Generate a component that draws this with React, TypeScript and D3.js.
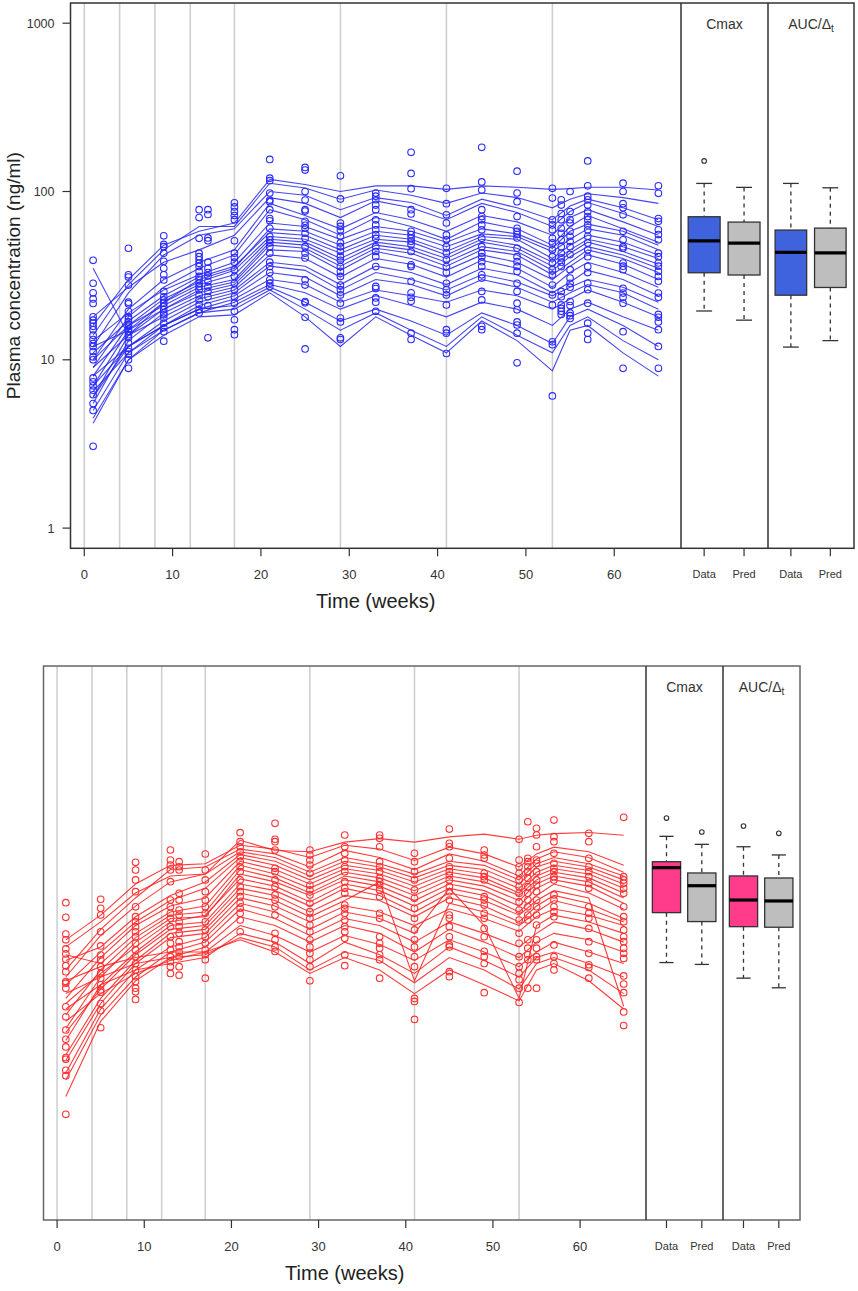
import * as d3 from "d3";

// weeks at which doses were given (grey verticals)
const DOSE_WEEKS = [0, 4, 8, 12, 17, 29, 41, 53];
// weeks of the observed samples
const OBS_WEEKS = [1, 5, 9, 13, 14, 17, 21, 25, 29, 33, 37, 41, 45, 49, 53, 54, 55, 57, 61, 65];
// weeks at which the individual predictions are drawn
const PRED_WEEKS = [1, 5, 9, 13, 17, 21, 25, 29, 33, 37, 41, 45, 49, 53, 55, 57, 61, 65];
const X_TICKS = [0, 10, 20, 30, 40, 50, 60];
const Y_TICKS = [1, 10, 100, 1000];
const BOX_LABELS = ["Data", "Pred"];

// ---- top panel (blue) ----
const topObs: number[][] = [
  [39, 28.5, 25, 23, 21.6, 18, 17.2, 16.5, 15.8, 15.1, 14, 13.2, 12.5, 12, 11.2, 10.4, 10, 7.8, 7.4, 7, 6.6, 6.2, 5.5, 5, 3.06],
  [46, 32, 31, 27.8, 22, 21.5, 19.4, 18, 17.5, 16.8, 16.2, 15.8, 15.2, 14.7, 14.1, 13.5, 12.6, 11.7, 11.2, 10.8, 10, 8.9],
  [54.5, 48.5, 47, 43, 38.5, 35, 32, 29.8, 25.5, 23.7, 22.7, 21.7, 20.8, 19.8, 19, 18.5, 17.7, 16.5, 15.5, 14.7, 12.9],
  [78, 70, 52.7, 43, 41, 39.3, 37.5, 35.8, 33.5, 31.3, 30, 28.5, 27.3, 26.1, 24.3, 22.7, 21.3, 19.8, 19],
  [78, 73, 53, 51, 38, 35, 33, 31.5, 29.3, 27.2, 25.5, 23.7, 21, 13.5],
  [85.6, 81, 76, 72, 68, 50.9, 43, 40.5, 38, 34.3, 31.3, 28.5, 26.1, 23.7, 21.7, 19.4, 17.3, 15.1, 14.1],
  [155, 120, 116, 98, 89, 87, 78, 69, 67, 60.5, 54, 51.6, 49.5, 47, 43, 38, 35.8, 33, 29.9, 28.5, 27.3],
  [139, 134, 100, 89, 78, 76.5, 66.5, 63, 60.5, 56.5, 52.7, 47, 43, 40.3, 29.9, 27.8, 22.2, 21.8, 17.9, 11.6],
  [124, 90.4, 65, 62, 59, 54.2, 49.5, 47, 44.1, 41, 39, 35.8, 33.5, 31.3, 27.8, 26.1, 24.3, 21.7, 17.7, 16.8, 13.5, 13.2],
  [98, 93.8, 89.3, 83, 78, 67.9, 63.3, 59.2, 55.2, 52.7, 47, 44, 41, 35.8, 27.3, 26.5, 23.3, 22, 19.4],
  [171, 128, 104, 78, 73.5, 58, 55.5, 53, 50.6, 48.5, 44, 36.7, 35.8, 29.3, 25, 23.5, 22.3, 14.4, 13.2],
  [104.5, 84.6, 72.7, 65, 55.2, 51.6, 47, 43, 39.3, 35.8, 33, 28.5, 26.1, 24.3, 21.2, 15.1, 14.4, 10.9],
  [183, 114, 102, 78, 71, 67.9, 63.3, 59.2, 52.7, 47, 43, 41, 38.3, 35.8, 32, 30.6, 25.5, 22.7, 15.8, 15.1],
  [132, 98, 87, 71, 60.5, 58, 55.5, 53, 46, 41, 38.3, 35.8, 33.5, 28.5, 25.5, 21.7, 19.8, 16.8, 16.1, 14.4, 9.6],
  [104.5, 91.4, 67.9, 63.3, 59.2, 52.7, 49.5, 45, 41, 37.6, 34.3, 32, 27.8, 24.3, 21.2, 12.8, 12.3, 6.1],
  [89.3, 83, 74, 67.9, 60.5, 56.5, 51.6, 47, 43, 40.3, 38, 35.8, 25.5, 23.7, 21.2, 20.2, 19.4, 18.6],
  [100, 76, 67.9, 65, 58, 54.2, 50.6, 47, 42.2, 34.3, 30.6, 28.5, 27, 22.2, 21, 19, 18.3, 17.6],
  [152, 108, 93.8, 89.3, 83, 76, 71, 67.9, 63.3, 59.2, 54.2, 49.5, 45, 41, 35.8, 33, 28.5, 26.1, 21.7, 16.5, 14.4, 13.2],
  [112, 100, 84.6, 80, 72.7, 58, 51.6, 47, 46, 37.6, 36, 34.3, 26.6, 24.9, 23.5, 21.7, 14.7, 8.9],
  [108, 97.5, 69, 66.5, 59.2, 55.5, 51.6, 43, 41, 37.6, 36, 33.5, 31.3, 29.3, 24.9, 23.5, 18.6, 17.9, 16.8, 15.1, 12, 8.9],
];

const topPred: number[][] = [
  [16, 30, 48, 58, 65, 118, 110, 100, 108, 108, 103, 108, 106, 103, 104, 106, 106, 102],
  [14, 28, 45, 62, 62, 112, 105, 90, 102, 95, 85, 98, 92, 80, 90, 97, 92, 85],
  [12, 25, 42, 55, 60, 100, 95, 78, 92, 86, 72, 90, 80, 68, 82, 90, 80, 68],
  [18, 27, 38, 45, 55, 92, 85, 70, 88, 80, 68, 85, 75, 62, 76, 86, 74, 62],
  [10, 20, 30, 38, 45, 85, 72, 60, 75, 68, 58, 72, 66, 55, 70, 78, 66, 55],
  [9, 18, 27, 35, 42, 78, 68, 55, 70, 62, 52, 66, 60, 48, 62, 72, 60, 50],
  [13, 19, 26, 32, 38, 65, 62, 52, 62, 58, 50, 60, 56, 46, 58, 64, 58, 48],
  [35, 14, 22, 30, 35, 60, 58, 48, 58, 55, 47, 56, 54, 44, 52, 60, 55, 45],
  [11, 17, 24, 31, 36, 57, 55, 45, 55, 52, 44, 54, 52, 40, 48, 55, 50, 42],
  [8, 16, 23, 29, 34, 54, 52, 43, 52, 50, 42, 52, 48, 38, 45, 52, 47, 40],
  [7, 15, 22, 28, 32, 52, 50, 40, 50, 47, 40, 50, 46, 36, 43, 50, 44, 37],
  [10, 16, 21, 27, 30, 50, 48, 38, 48, 45, 38, 47, 44, 34, 41, 47, 42, 35],
  [6, 14, 20, 26, 29, 48, 46, 36, 46, 43, 36, 45, 42, 32, 38, 45, 40, 33],
  [12, 15, 20, 25, 28, 45, 44, 34, 44, 40, 34, 42, 38, 30, 36, 42, 37, 30],
  [5.5, 13, 19, 24, 27, 42, 40, 31, 40, 37, 31, 39, 35, 27, 33, 38, 33, 27],
  [9, 14, 18, 23, 26, 38, 36, 28, 36, 33, 28, 35, 32, 25, 29, 34, 30, 24],
  [7, 12, 17, 22, 25, 36, 34, 26, 33, 30, 26, 32, 29, 24, 27, 30, 27, 22],
  [6, 12, 16, 21, 24, 33, 31, 24, 30, 28, 24, 30, 27, 22, 25, 28, 25, 20],
  [5, 11, 16, 20, 23, 30, 28, 22, 26, 24, 22, 26, 24, 20, 23, 26, 22, 18],
  [4.5, 10, 15, 19, 22, 28, 25, 20, 24, 21, 18, 22, 20, 16, 20, 22, 18, 15],
  [8, 12, 16, 20, 21, 27, 22, 17, 20, 17, 14, 19, 16, 12.5, 18, 20, 16, 12],
  [6.5, 11, 15, 19, 20, 26, 20, 15, 19, 15, 12, 18, 14, 11, 16, 18, 13, 10],
  [4.2, 10, 14, 18, 18.5, 25, 18, 12, 18, 14, 11, 17, 13, 8.6, 15, 16, 11, 8],
];

// boxplot stats: [lower whisker, Q1, median, Q3, upper whisker]
const topCmaxData = [19.5, 32.9, 50.9, 70.8, 111.7];
const topCmaxPred = [17.2, 31.9, 49.4, 65.8, 105.8];
const topAucData = [11.9, 24.2, 43.5, 59, 111.7];
const topAucPred = [13, 26.9, 43.2, 60.6, 105.2];
const topCmaxDataOut = [152];

// ---- bottom panel (red) ----
const botObs: number[][] = [
  [54.4, 44.7, 35.7, 33, 29.2, 27.3, 25.4, 23.3, 21.5, 18.8, 18.4, 17.2, 13.4, 11.7, 9.8, 8.65, 7.8, 6.75, 6.6, 5.7, 5.3, 3.15],
  [57, 50.5, 46.1, 36.8, 30.4, 26.9, 25.2, 23, 21, 19.7, 18, 16.8, 16.3, 14, 12.7, 10.1],
  [93.7, 84.5, 73.9, 63.1, 51.5, 45.1, 42.1, 39.4, 36.8, 34.4, 31.5, 28.8, 26.3, 24, 22, 20.1, 18.8, 17.2, 16.4, 14.8],
  [110.6, 96.7, 90.4, 84.5, 72.2, 56.4, 51.5, 47.2, 44.1, 39.4, 34.4, 31.5, 28.8, 26.3, 24.6, 23, 21],
  [94.6, 88.3, 84.5, 61.7, 56.4, 49.3, 46.1, 42.1, 39.4, 36, 32.2, 30, 28, 26.3, 23, 20.5],
  [104.8, 84.5, 73.9, 63.1, 56.4, 51.5, 47.2, 42.1, 37.7, 34.4, 31.5, 28.8, 27, 25.2, 19.7],
  [139.7, 123.7, 115.6, 108, 101, 94.6, 88.3, 82.6, 73.9, 67.5, 63.1, 59, 54, 50.5, 47.2, 43.1, 36.8],
  [158.5, 127.7, 123.7, 110.6, 86.4, 82.6, 73.9, 67.5, 60.4, 56.4, 51.5, 46.1, 36, 33, 30, 28.2],
  [110.6, 103.4, 96.7, 90.4, 80.8, 69, 64.6, 60.4, 54, 48.2, 44.1, 40.3, 36.8, 33, 30, 27.5, 25.2, 23, 19],
  [135.4, 115.6, 105.9, 96.7, 88.3, 82.6, 72.2, 66, 61.7, 52.7, 50.5, 47.2, 43.1, 39.4, 36.8, 33.7, 27, 23.3],
  [135.4, 129.5, 115.6, 94.6, 88.3, 82.6, 75.7, 72.2, 69, 64.6, 59, 47.2, 44.1, 34.4, 31.5, 29.5, 27, 25.2, 19.7],
  [105.9, 94.6, 82.6, 73.9, 64.6, 57.7, 50.5, 44.1, 37.7, 33, 30, 26.3, 23, 15, 14.4, 11.3],
  [146.7, 121, 115.6, 98.9, 88.3, 82.6, 79, 73.9, 67.5, 63.1, 56.4, 46.1, 44.1, 39.4, 34.4, 30.8, 30, 21.5, 20.1],
  [110.6, 103.4, 98.9, 80.8, 77.2, 73.9, 59, 56.4, 52.7, 47.2, 44.1, 38.5, 34.4, 28.3, 26.3, 24, 16.2],
  [127.7, 96.7, 88.3, 80.8, 73.9, 67.5, 61.7, 55, 49.3, 43.1, 36, 31.5, 26.3, 23, 21, 19.3, 17.2, 14.2],
  [161.9, 98.9, 94.6, 88.3, 82.6, 75.7, 67.5, 61.7, 56.4, 51.5, 46.1, 43.1, 33, 29.5, 27, 25.2, 17.2],
  [148.3, 135.4, 115.6, 96.7, 92.5, 82.6, 73.9, 69, 63.1, 56.4, 51.5, 46.1, 40.3, 33, 29.5, 26.3, 25.2, 17.2],
  [165.6, 132.4, 123.7, 105.9, 92.5, 86.4, 82.6, 77.2, 73.9, 60.4, 56.4, 51.5, 48.2, 45.1, 30.8, 26.3, 24, 22],
  [138.4, 123.7, 98.9, 88.3, 82.6, 77.2, 70.6, 66, 51.5, 47.2, 44.1, 38.5, 32.2, 27.5, 23.6, 22.7, 19.7],
  [171.8, 77.2, 73.9, 70.6, 66, 61.7, 51.5, 45.1, 42.1, 37.7, 34.4, 32.2, 29.5, 27.5, 25.7, 20.3, 18.2, 16.2, 12.5, 10.4],
];

const botPred: number[][] = [
  [30, 42, 62, 78, 80, 126, 110, 108, 123, 129, 123, 132, 137, 128, 135, 138, 140, 135],
  [33, 46, 70, 90, 92, 118, 112, 100, 118, 112, 96, 115, 105, 88, 105, 115, 108, 90],
  [22, 38, 58, 85, 88, 112, 105, 88, 110, 100, 85, 105, 95, 78, 98, 108, 100, 82],
  [20, 35, 52, 72, 80, 108, 100, 82, 100, 92, 80, 95, 90, 74, 92, 100, 92, 78],
  [25, 30, 45, 60, 72, 104, 95, 78, 95, 88, 76, 90, 85, 70, 88, 95, 88, 74],
  [18, 28, 42, 56, 66, 100, 90, 74, 90, 84, 72, 86, 80, 66, 82, 90, 84, 70],
  [15, 26, 40, 52, 58, 95, 85, 70, 86, 80, 68, 82, 76, 62, 78, 86, 80, 66],
  [27, 24, 36, 48, 52, 90, 80, 66, 82, 76, 64, 78, 72, 60, 74, 82, 76, 62],
  [12, 22, 34, 46, 48, 85, 76, 62, 78, 72, 60, 74, 68, 56, 70, 78, 72, 58],
  [10, 20, 32, 44, 45, 80, 72, 60, 74, 68, 56, 70, 64, 52, 66, 74, 68, 54],
  [14, 21, 30, 42, 46, 75, 68, 55, 70, 64, 52, 66, 60, 48, 60, 70, 62, 50],
  [8.5, 18, 28, 40, 42, 70, 64, 52, 66, 60, 48, 62, 56, 46, 56, 64, 58, 13.5],
  [9.5, 17, 27, 38, 40, 66, 60, 48, 60, 56, 45, 58, 52, 42, 52, 60, 54, 44],
  [7, 15, 25, 36, 38, 62, 56, 45, 56, 72, 19, 54, 48, 40, 48, 56, 50, 42],
  [6.5, 14, 24, 34, 36, 58, 52, 42, 52, 48, 40, 50, 44, 37, 45, 50, 46, 40],
  [5.5, 13, 22, 30, 34, 54, 48, 38, 48, 44, 36, 66, 40, 15, 40, 46, 42, 36],
  [5, 12, 20, 28, 32, 50, 44, 35, 44, 40, 32, 42, 36, 30, 36, 42, 38, 32],
  [4, 11, 19, 26, 30, 45, 40, 32, 40, 36, 28, 38, 32, 26, 32, 36, 33, 28],
  [11, 16, 21, 25, 28, 40, 35, 28, 35, 31, 25, 33, 28, 23, 28, 32, 28, 24],
  [13, 18, 22, 24, 26, 36, 32, 24, 32, 27, 21, 30, 25, 20, 26, 28, 24, 20],
  [16, 20, 24, 26, 27, 34, 30, 22, 28, 25, 18.5, 26, 22, 17, 24, 26, 22, 16],
  [19, 23, 26, 28, 28, 33, 28, 21, 26, 22, 16, 22, 18, 14.5, 22, 24, 19, 13],
];

const botCmaxData = [24.3, 47.6, 87.2, 94.5, 133];
const botCmaxPred = [23.7, 42.2, 68.4, 81.2, 119.4];
const botAucData = [19.7, 39.4, 56.4, 78, 115.6];
const botAucPred = [17.3, 39.1, 55.7, 75.9, 103.5];
const botCmaxDataOut = [170];
const botCmaxPredOut = [141];
const botAucDataOut = [152.8];
const botAucPredOut = [138.5];

const FONT = "Liberation Sans, Arial, sans-serif";

interface PanelProps {
  left: number;
  right: number;
  top: number;
  bottom: number;
  boxEnds: [number, number];
  obs: number[][];
  pred: number[][];
  pointColor: string;
  lineColor: string;
  dataFill: string;
  boxes: { stats: number[]; out: number[] }[][];
  yAxis: boolean;
  frame: string;
}

function Panel(p: PanelProps) {
  const x = d3.scaleLinear().domain([-1.56, 67.56]).range([p.left, p.right]);
  const y = d3
    .scaleLog()
    .domain([Math.pow(10, -0.12), Math.pow(10, 3.12)])
    .range([p.bottom, p.top]);
  const line = d3
    .line<number>()
    .x((_, i) => x(PRED_WEEKS[i]))
    .y((v) => y(v));

  const panels = [
    [p.right, p.boxEnds[0]],
    [p.boxEnds[0], p.boxEnds[1]],
  ];
  const titles = ["Cmax", "AUC"];

  return (
    <g fontFamily={FONT}>
      {DOSE_WEEKS.map((w) => (
        <line
          key={w}
          x1={x(w)}
          x2={x(w)}
          y1={p.top}
          y2={p.bottom}
          stroke="#cfcfcf"
          strokeWidth={1.6}
        />
      ))}
      {p.pred.map((d, i) => (
        <path
          key={i}
          d={line(d) || ""}
          fill="none"
          stroke={p.lineColor}
          strokeWidth={1.1}
          strokeOpacity={0.85}
        />
      ))}
      {p.obs.map((col, i) =>
        col.map((v, j) => (
          <circle
            key={i + "-" + j}
            cx={x(OBS_WEEKS[i])}
            cy={y(v)}
            r={3.3}
            fill="none"
            stroke={p.pointColor}
            strokeWidth={1.1}
          />
        ))
      )}

      {/* box panels */}
      {panels.map(([a, b], k) => {
        const bx = d3.scaleLinear().domain([0.42, 2.6]).range([a, b]);
        const hw = bx(1.4) - bx(1);
        return (
          <g key={k}>
            {p.boxes[k].map((bs, j) => {
              const cx = bx(j + 1);
              const [lo, q1, md, q3, hi] = bs.stats;
              return (
                <g key={j}>
                  <line x1={cx} x2={cx} y1={y(hi)} y2={y(q3)} stroke="#333" strokeWidth={1.3} strokeDasharray="4,4" />
                  <line x1={cx} x2={cx} y1={y(q1)} y2={y(lo)} stroke="#333" strokeWidth={1.3} strokeDasharray="4,4" />
                  <line x1={cx - hw / 2} x2={cx + hw / 2} y1={y(hi)} y2={y(hi)} stroke="#333" strokeWidth={1.3} />
                  <line x1={cx - hw / 2} x2={cx + hw / 2} y1={y(lo)} y2={y(lo)} stroke="#333" strokeWidth={1.3} />
                  <rect
                    x={cx - hw}
                    width={hw * 2}
                    y={y(q3)}
                    height={y(q1) - y(q3)}
                    fill={j === 0 ? p.dataFill : "#bebebe"}
                    stroke="#333"
                    strokeWidth={1.3}
                  />
                  <line x1={cx - hw} x2={cx + hw} y1={y(md)} y2={y(md)} stroke="#000" strokeWidth={3.2} />
                  {bs.out.map((o, m) => (
                    <circle key={m} cx={cx} cy={y(o)} r={2.3} fill="none" stroke="#333" strokeWidth={1.1} />
                  ))}
                  <line x1={cx} x2={cx} y1={p.bottom} y2={p.bottom + 8} stroke="#333" strokeWidth={1.2} />
                  <text x={cx} y={p.bottom + 30} textAnchor="middle" fontSize={11} fill="#333">
                    {BOX_LABELS[j]}
                  </text>
                </g>
              );
            })}
            <text x={(a + b) / 2} y={p.top + 26} textAnchor="middle" fontSize={14} fill="#333">
              {titles[k] === "AUC" ? (
                <>
                  AUC/Δ<tspan fontSize={10} dy={3}>t</tspan>
                </>
              ) : (
                titles[k]
              )}
            </text>
          </g>
        );
      })}

      {/* frames */}
      <rect x={p.left} y={p.top} width={p.boxEnds[1] - p.left} height={p.bottom - p.top} fill="none" stroke={p.frame} strokeWidth={1.5} />
      <line x1={p.right} x2={p.right} y1={p.top} y2={p.bottom} stroke="#333" strokeWidth={1.5} />
      <line x1={p.boxEnds[0]} x2={p.boxEnds[0]} y1={p.top} y2={p.bottom} stroke="#333" strokeWidth={1.5} />

      {/* x axis */}
      {X_TICKS.map((t) => (
        <g key={t}>
          <line x1={x(t)} x2={x(t)} y1={p.bottom} y2={p.bottom + 8} stroke="#333" strokeWidth={1.2} />
          <text x={x(t)} y={p.bottom + 31} textAnchor="middle" fontSize={13} fill="#333">
            {t}
          </text>
        </g>
      ))}
      <text x={(p.left + p.right) / 2} y={p.bottom + 60} textAnchor="middle" fontSize={20} fill="#222">
        Time (weeks)
      </text>

      {p.yAxis && (
        <g>
          {Y_TICKS.map((v) => (
            <g key={v}>
              <line x1={p.left - 8} x2={p.left} y1={y(v)} y2={y(v)} stroke="#333" strokeWidth={1.2} />
              <text x={p.left - 16} y={y(v) + 4.5} textAnchor="end" fontSize={12.5} fill="#333">
                {v}
              </text>
            </g>
          ))}
          <text
            transform={`translate(20,${(p.top + p.bottom) / 2}) rotate(-90)`}
            textAnchor="middle"
            fontSize={19}
            fill="#222"
          >
            Plasma concentration (ng/ml)
          </text>
        </g>
      )}
    </g>
  );
}

export default function App() {
  return (
    <svg
      width={858}
      height={1291}
      style={{ position: "absolute", left: 0, top: 0, background: "#fff" }}
    >
      <Panel
        left={70.5}
        right={681}
        top={3}
        bottom={548.3}
        boxEnds={[768, 854]}
        obs={topObs}
        pred={topPred}
        pointColor="#2b2bff"
        lineColor="#2424ee"
        dataFill="#3f63dd"
        boxes={[
          [
            { stats: topCmaxData, out: topCmaxDataOut },
            { stats: topCmaxPred, out: [] },
          ],
          [
            { stats: topAucData, out: [] },
            { stats: topAucPred, out: [] },
          ],
        ]}
        yAxis={true}
        frame="#333"
      />
      <Panel
        left={43.5}
        right={646}
        top={666}
        bottom={1220}
        boxEnds={[723, 800]}
        obs={botObs}
        pred={botPred}
        pointColor="#ff3030"
        lineColor="#ff1a1a"
        dataFill="#ff3b8b"
        boxes={[
          [
            { stats: botCmaxData, out: botCmaxDataOut },
            { stats: botCmaxPred, out: botCmaxPredOut },
          ],
          [
            { stats: botAucData, out: botAucDataOut },
            { stats: botAucPred, out: botAucPredOut },
          ],
        ]}
        yAxis={false}
        frame="#666"
      />
    </svg>
  );
}
